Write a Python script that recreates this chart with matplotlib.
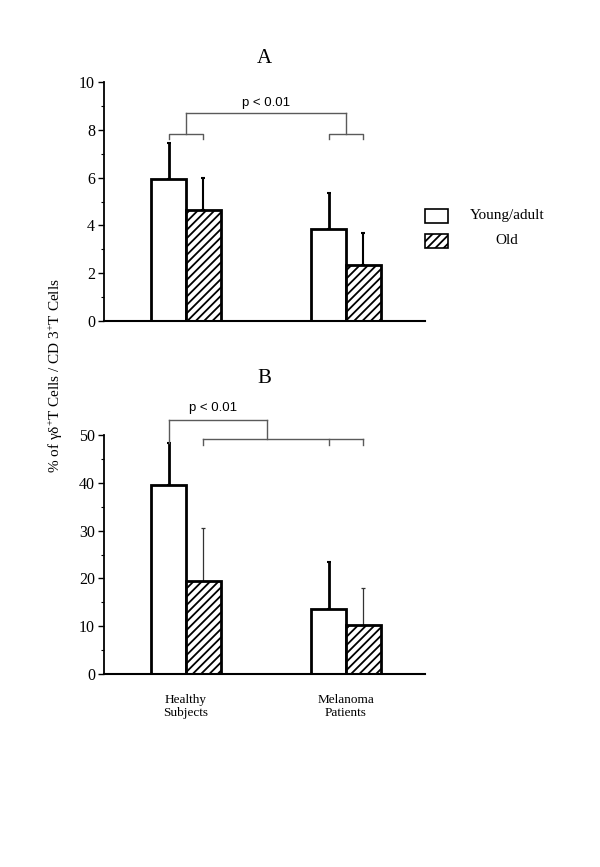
import matplotlib
matplotlib.use("Agg")
import matplotlib.pyplot as plt
from matplotlib.ticker import MultipleLocator
from matplotlib.patches import Rectangle

# ---------------- data ----------------
groups = ["Healthy\nSubjects", "Melanoma\nPatients"]
series = ["Young/adult", "Old"]

a_young = [5.95, 3.85]
a_young_sd = [1.51, 1.52]
a_old = [4.66, 2.34]
a_old_sd = [1.31, 1.33]

b_young = [39.5, 13.6]
b_young_sd = [8.9, 9.9]
b_old = [19.5, 10.25]
b_old_sd = [11.0, 7.75]

a_ticks = [0, 2, 4, 6, 8, 10]
b_ticks = [0, 10, 20, 30, 40, 50]
p_text = "p < 0.01"
ylabel = "% of γδ$^{+}$T Cells / CD 3$^{+}$T Cells"

# ---------------- style ----------------
SERIF = "Liberation Serif"
SANS = "Liberation Sans"
plt.rcParams["font.family"] = [SERIF, "DejaVu Serif"]
plt.rcParams["mathtext.fontset"] = "custom"
plt.rcParams["mathtext.rm"] = SERIF
plt.rcParams["mathtext.it"] = SERIF + ":italic"
plt.rcParams["hatch.linewidth"] = 1.3

W, H = 600, 867
fig = plt.figure(figsize=(W / 100, H / 100), dpi=100)

def px_axes(left, top, right, bottom):
    return fig.add_axes([left / W, 1 - bottom / H, (right - left) / W, (bottom - top) / H])

axA = px_axes(104, 82, 425, 321)
axB = px_axes(104, 435, 425, 674)

xpos = [0, 1]
bw = 0.216
off = bw / 2
XLIM = (-0.5125, 1.494)
BR = "#5a5a5a"

def draw_panel(ax, young, young_sd, old, old_sd, ticks, minor, old_err_lw, old_err_col):
    xy = [x - off for x in xpos]
    xo = [x + off for x in xpos]
    ax.bar(xy, young, width=bw, color="white", edgecolor="black", linewidth=2, zorder=2)
    ax.bar(xo, old, width=bw, color="white", edgecolor="black", linewidth=2,
           hatch="////", zorder=2)
    ax.errorbar(xy, young, yerr=[[0] * len(young), young_sd], fmt="none",
                ecolor="black", elinewidth=2, capsize=1.5, capthick=1.5, zorder=1)
    ax.errorbar(xo, old, yerr=[[0] * len(old), old_sd], fmt="none",
                ecolor=old_err_col, elinewidth=old_err_lw, capsize=1.5,
                capthick=old_err_lw, zorder=1)
    ax.set_xlim(*XLIM)
    ax.set_ylim(ticks[0], ticks[-1])
    ax.set_yticks(ticks)
    ax.yaxis.set_minor_locator(MultipleLocator(minor))
    ax.set_xticks([])
    for s in ("top", "right"):
        ax.spines[s].set_visible(False)
    ax.spines["left"].set_linewidth(1.3)
    ax.spines["bottom"].set_linewidth(1.5)
    ax.tick_params(axis="y", which="major", length=4.5, width=1, pad=2,
                   labelsize=11.5)
    ax.tick_params(axis="y", which="minor", length=2.5, width=0.8)
    return xy, xo

# ---------------- Panel A ----------------
xyA, xoA = draw_panel(axA, a_young, a_young_sd, a_old, a_old_sd, a_ticks, 1, 1.5, "black")
axA.text(0.5, 1.08, "A", transform=axA.transAxes, ha="center", va="baseline",
         fontsize=15)
top_y, mid_y, leg_y = 8.69, 7.84, 7.6
for g in range(2):
    axA.plot([xyA[g], xyA[g], xoA[g], xoA[g]], [leg_y, mid_y, mid_y, leg_y],
             color=BR, lw=1, clip_on=False)
    axA.plot([xpos[g], xpos[g]], [mid_y, top_y], color=BR, lw=1, clip_on=False)
axA.plot([xpos[0], xpos[1]], [top_y, top_y], color=BR, lw=1, clip_on=False)
axA.text(0.5, 9.0, p_text, ha="center", va="baseline", fontsize=9.5, family=SANS)

# ---------------- Panel B ----------------
xyB, xoB = draw_panel(axB, b_young, b_young_sd, b_old, b_old_sd, b_ticks, 5, 0.9, "#333333")
axB.text(0.5, 1.218, "B", transform=axB.transAxes, ha="center", va="baseline",
         fontsize=15)
top_b, low_b, leg_b = 53.1, 49.1, 47.9
xmid = 0.506
axB.plot([xyB[0], xyB[0]], [b_young[0] + b_young_sd[0], top_b], color=BR, lw=1, clip_on=False)
axB.plot([xyB[0], xmid], [top_b, top_b], color=BR, lw=1, clip_on=False)
axB.plot([xmid, xmid], [top_b, low_b], color=BR, lw=1, clip_on=False)
axB.plot([xoB[0], xoB[1]], [low_b, low_b], color=BR, lw=1, clip_on=False)
for xx in (xoB[0], xyB[1], xoB[1]):
    axB.plot([xx, xx], [low_b, leg_b], color=BR, lw=1, clip_on=False)
axB.text(0.17, 55.1, p_text, ha="center", va="baseline", fontsize=9.5, family=SANS)

# group labels under panel B
for x, g in zip(xpos, groups):
    axB.text(x, -4.2, g, ha="center", va="top", fontsize=9.5, linespacing=1.15)

# ---------------- legend ----------------
def fig_rect(x0, y0, x1, y1, **kw):
    r = Rectangle((x0 / W, 1 - y1 / H), (x1 - x0) / W, (y1 - y0) / H,
                  transform=fig.transFigure, **kw)
    fig.add_artist(r)

fig_rect(425, 209, 448, 223, facecolor="white", edgecolor="black", linewidth=1.2)
fig_rect(425, 234, 448, 248, facecolor="white", edgecolor="black", linewidth=1.2,
         hatch="////")
fig.text(507 / W, 1 - 216 / H, series[0], ha="center", va="center", fontsize=11)
fig.text(507 / W, 1 - 241 / H, series[1], ha="center", va="center", fontsize=11)

# ---------------- y label ----------------
fig.text(56 / W, 1 - 376 / H, ylabel, rotation=90, ha="center", va="center",
         fontsize=11)

fig.savefig("out.png", dpi=100, facecolor="white")
